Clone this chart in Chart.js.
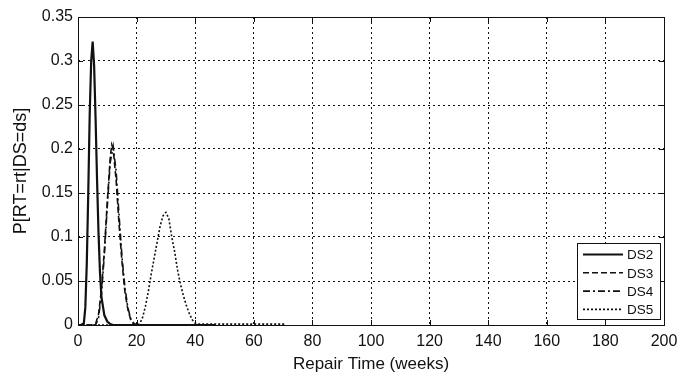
<!DOCTYPE html>
<html>
<head>
<meta charset="utf-8">
<script src="https://cdn.jsdelivr.net/npm/chart.js@4"></script>
<style>
  html, body { margin: 0; padding: 0; background: #fff; }
  #wrap { position: relative; width: 678px; height: 377px; }
</style>
</head>
<body>
<div id="wrap"><canvas id="chart" width="678" height="377"></canvas></div>
<script>
// Repair time distributions per damage state
const seriesLabels = ['DS2', 'DS3', 'DS4', 'DS5'];

const ds2X = [0, 1, 2, 2.5, 3, 3.5, 4, 4.5, 5, 5.5, 6, 6.5, 7, 7.5, 8, 9, 10, 11, 12, 47];
const ds2Y = [0, 0, 0.002, 0.02, 0.07, 0.15, 0.24, 0.3, 0.322, 0.295, 0.235, 0.165, 0.105, 0.06, 0.032, 0.011, 0.004, 0.001, 0, 0];

const ds3X = [0, 5, 6, 7, 8, 9, 10, 11, 11.5, 12, 13, 14, 15, 16, 17, 18, 19, 20, 40];
const ds3Y = [0, 0, 0.001, 0.012, 0.04, 0.085, 0.14, 0.19, 0.205, 0.2, 0.165, 0.115, 0.072, 0.038, 0.018, 0.006, 0.001, 0, 0];

const ds4X = [0, 6, 7, 8, 9, 10, 11, 12, 13, 14, 15, 16, 17, 18, 19, 20, 40];
const ds4Y = [0, 0, 0.008, 0.035, 0.08, 0.135, 0.185, 0.203, 0.175, 0.125, 0.078, 0.043, 0.02, 0.007, 0.002, 0, 0];

const ds5X = [0, 20, 21, 22, 23, 24, 25, 26, 27, 28, 29, 30, 31, 32, 33, 34, 35, 36, 37, 38, 39, 40, 41, 71];
const ds5Y = [0, 0, 0.001, 0.008, 0.021, 0.038, 0.058, 0.076, 0.094, 0.112, 0.124, 0.128, 0.121, 0.1, 0.083, 0.062, 0.046, 0.033, 0.022, 0.013, 0.006, 0.002, 0.001, 0.001];

const xTicks = [0, 20, 40, 60, 80, 100, 120, 140, 160, 180, 200];
const yTicks = [0, 0.05, 0.1, 0.15, 0.2, 0.25, 0.3, 0.35];

const FONT = "'Liberation Sans', Arial, sans-serif";
const INK = '#111';

function toPoints(xs, ys) {
  return xs.map((x, i) => ({ x: x, y: ys[i] }));
}

const lineStyles = [
  { dash: [], width: 2.2 },
  { dash: [6, 3], width: 1.6 },
  { dash: [7, 3, 2, 3], width: 1.6 },
  { dash: [2, 2], width: 1.6 },
];

const allX = [ds2X, ds3X, ds4X, ds5X];
const allY = [ds2Y, ds3Y, ds4Y, ds5Y];

const datasets = seriesLabels.map((label, i) => ({
  label: label,
  data: toPoints(allX[i], allY[i]),
  borderColor: INK,
  borderWidth: lineStyles[i].width,
  borderDash: lineStyles[i].dash,
  pointRadius: 0,
  tension: 0,
  fill: false,
}));

// frame, inward ticks and the boxed legend inside the plot, MATLAB style
const framePlugin = {
  id: 'frame',
  afterDatasetsDraw(chart) {
    const { ctx, chartArea: a, scales } = chart;
    ctx.save();
    ctx.strokeStyle = INK;
    ctx.lineWidth = 1;
    ctx.setLineDash([]);
    ctx.strokeRect(a.left + 0.5, a.top + 0.5, a.right - a.left, a.bottom - a.top);

    const tl = 5;
    ctx.beginPath();
    xTicks.forEach(v => {
      const px = Math.round(scales.x.getPixelForValue(v)) + 0.5;
      ctx.moveTo(px, a.bottom); ctx.lineTo(px, a.bottom - tl);
      ctx.moveTo(px, a.top); ctx.lineTo(px, a.top + tl);
    });
    yTicks.forEach(v => {
      const py = Math.round(scales.y.getPixelForValue(v)) + 0.5;
      ctx.moveTo(a.left, py); ctx.lineTo(a.left + tl, py);
      ctx.moveTo(a.right, py); ctx.lineTo(a.right - tl, py);
    });
    ctx.stroke();

    // legend box
    const bx = 577, by = 243, bw = 83, bh = 76;
    ctx.fillStyle = '#fff';
    ctx.fillRect(bx, by, bw, bh);
    ctx.strokeRect(bx + 0.5, by + 0.5, bw, bh);
    ctx.font = '13.5px ' + FONT;
    ctx.textBaseline = 'middle';
    ctx.textAlign = 'left';
    chart.data.datasets.forEach((d, i) => {
      const y = by + 11.5 + i * 18.3;
      ctx.beginPath();
      ctx.setLineDash(d.borderDash);
      ctx.lineWidth = d.borderWidth;
      ctx.moveTo(bx + 6, y);
      ctx.lineTo(bx + 46, y);
      ctx.stroke();
      ctx.setLineDash([]);
      ctx.fillStyle = INK;
      ctx.fillText(d.label, bx + 50, y + 1);
    });
    ctx.restore();
  }
};

new Chart(document.getElementById('chart'), {
  type: 'line',
  data: { datasets: datasets },
  options: {
    responsive: false,
    animation: false,
    layout: { padding: { top: 17, right: 14, left: 0, bottom: 0 } },
    plugins: {
      legend: { display: false },
      tooltip: { enabled: false },
    },
    scales: {
      x: {
        type: 'linear',
        min: 0,
        max: 200,
        afterFit: (s) => { s.height = 52; s.paddingLeft = 0; s.paddingRight = 0; },
        afterBuildTicks: (s) => { s.ticks = xTicks.map(v => ({ value: v })); },
        grid: {
          color: INK,
          lineWidth: 1,
          drawTicks: false,
        },
        border: { display: false, dash: [2, 3] },
        ticks: {
          color: INK,
          padding: 7,
          maxRotation: 0,
          font: { family: FONT, size: 16 },
        },
        title: {
          display: true,
          text: 'Repair Time (weeks)',
          color: INK,
          padding: { top: 0, bottom: 2 },
          font: { family: FONT, size: 17 },
        },
      },
      y: {
        type: 'linear',
        min: 0,
        max: 0.35,
        afterFit: (s) => { s.width = 78; s.paddingTop = 0; s.paddingBottom = 0; },
        afterBuildTicks: (s) => { s.ticks = yTicks.map(v => ({ value: v })); },
        grid: {
          color: INK,
          lineWidth: 1,
          drawTicks: false,
        },
        border: { display: false, dash: [2, 3] },
        ticks: {
          color: INK,
          padding: 5,
          font: { family: FONT, size: 16 },
          callback: (v) => String(v),
        },
        title: {
          display: true,
          text: 'P[RT=rt|DS=ds]',
          color: INK,
          padding: { top: 10, bottom: 0 },
          font: { family: FONT, size: 18 },
        },
      },
    },
  },
  plugins: [framePlugin],
});
</script>
</body>
</html>
